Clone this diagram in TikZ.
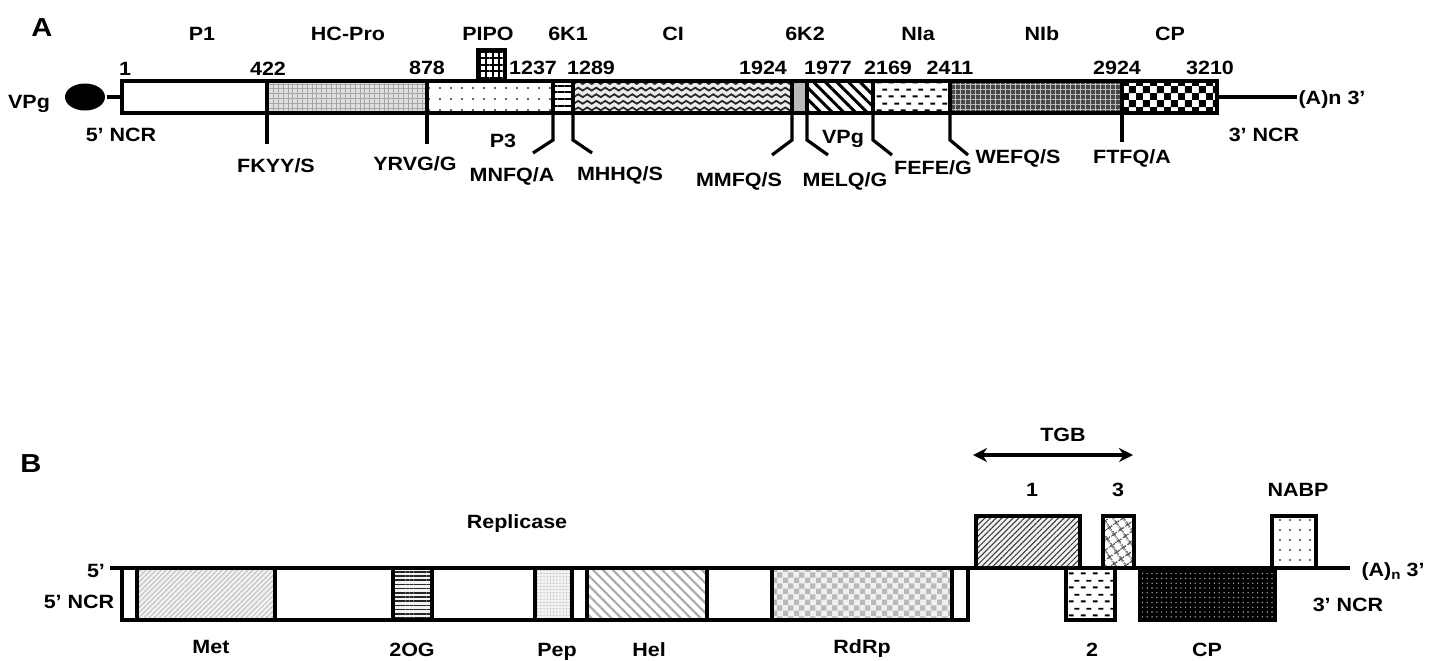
\documentclass[tikz,border=0pt]{standalone}
\usepackage{fontspec}
\setmainfont{Liberation Sans}[FakeStretch=1.12]
\usetikzlibrary{patterns,patterns.meta,arrows.meta,shapes.geometric}

\pgfdeclarepatternformonly{waves}{\pgfpoint{-0.1pt}{-0.1pt}}{\pgfpoint{4.6pt}{3.4pt}}{\pgfpoint{4.5pt}{3.3pt}}{
	\pgfsetlinewidth{0.9pt}
	\pgfpathmoveto{\pgfpoint{0pt}{1.65pt}}
	\pgfpathcurveto{\pgfpoint{0.75pt}{2.6pt}}{\pgfpoint{1.5pt}{2.6pt}}{\pgfpoint{2.25pt}{1.65pt}}
	\pgfpathcurveto{\pgfpoint{3pt}{0.7pt}}{\pgfpoint{3.75pt}{0.7pt}}{\pgfpoint{4.5pt}{1.65pt}}
	\pgfusepath{stroke}}
\pgfdeclarepatternformonly{dashes}{\pgfpointorigin}{\pgfpoint{6pt}{7pt}}{\pgfpoint{6pt}{7pt}}{
	\pgfpathrectangle{\pgfpoint{0.4pt}{1.4pt}}{\pgfpoint{2.6pt}{1pt}}
	\pgfpathrectangle{\pgfpoint{3.4pt}{4.9pt}}{\pgfpoint{2.6pt}{1pt}}
	\pgfusepath{fill}}
\pgfdeclarepatternformonly{bigchecks}{\pgfpointorigin}{\pgfpoint{7.2pt}{7.2pt}}{\pgfpoint{7.2pt}{7.2pt}}{
	\pgfpathrectangle{\pgfpointorigin}{\pgfpoint{3.6pt}{3.6pt}}
	\pgfpathrectangle{\pgfpoint{3.6pt}{3.6pt}}{\pgfpoint{3.6pt}{3.6pt}}
	\pgfusepath{fill}}
\pgfdeclarepatternformonly{smallchecks}{\pgfpointorigin}{\pgfpoint{5.6pt}{5.6pt}}{\pgfpoint{5.6pt}{5.6pt}}{
	\pgfpathrectangle{\pgfpointorigin}{\pgfpoint{2.8pt}{2.8pt}}
	\pgfpathrectangle{\pgfpoint{2.8pt}{2.8pt}}{\pgfpoint{2.8pt}{2.8pt}}
	\pgfusepath{fill}}

\tikzstyle{lbl}=[inner sep=0pt, text height=6.9pt, text depth=0pt, font=\fontsize{9.6}{11}\selectfont\bfseries]
\tikzstyle{big}=[inner sep=0pt, text height=9.3pt, text depth=0pt, font=\fontsize{13}{15}\selectfont\bfseries]
\tikzstyle{seg}=[draw=black, fill=white]
\tikzstyle{hcpro}=[draw=black, preaction={fill=gray!25}, pattern={Hatch[angle=0,distance=2.4pt,line width=0.4pt]}, pattern color=gray!70]
\tikzstyle{ptre}=[draw=black, pattern={Dots[distance=5.5pt,radius=0.55pt]}, pattern color=gray!40!black]
\tikzstyle{pipo}=[draw=black, pattern={Hatch[angle=0,distance=3.2pt,line width=1pt]}, pattern color=black]
\tikzstyle{sixka}=[draw=black, pattern={Lines[angle=0,distance=3.3pt,line width=1pt]}, pattern color=black]
\tikzstyle{ci}=[draw=black, preaction={fill=gray!15}, pattern=waves, pattern color=black!85]
\tikzstyle{sixkb}=[draw=black, fill=gray!55]
\tikzstyle{vpg}=[draw=black, pattern={Lines[angle=-45,distance=4.1pt,line width=1.5pt]}, pattern color=black]
\tikzstyle{nia}=[draw=black, pattern=dashes, pattern color=black]
\tikzstyle{nib}=[draw=black, preaction={fill=black!72}, pattern={Hatch[angle=0,distance=2.5pt,line width=0.5pt]}, pattern color=gray!50]
\tikzstyle{cpa}=[draw=black, pattern=bigchecks, pattern color=black]
\tikzstyle{met}=[draw=black, preaction={fill=gray!12}, pattern={Lines[angle=45,distance=1.8pt,line width=0.35pt]}, pattern color=gray!60]
\tikzstyle{twoog}=[draw=black, preaction={fill=gray!10}, pattern={Lines[angle=0,distance=2.1pt,line width=0.8pt]}, pattern color=gray!30!black]
\tikzstyle{pep}=[draw=black, preaction={fill=gray!10}, pattern={Dots[distance=1.6pt,radius=0.35pt]}, pattern color=gray!60]
\tikzstyle{hel}=[draw=black, pattern={Lines[angle=-45,distance=3.5pt,line width=1.1pt]}, pattern color=gray!65]
\tikzstyle{rdrp}=[draw=black, preaction={fill=gray!12}, pattern=smallchecks, pattern color=gray!55]
\tikzstyle{tgba}=[draw=black, preaction={fill=gray!10}, pattern={Lines[angle=45,distance=2pt,line width=0.5pt]}, pattern color=gray!40!black]
\tikzstyle{tgbc}=[draw=black, pattern={Hatch[angle=35,distance=4pt,line width=0.7pt]}, pattern color=gray!50!black]
\tikzstyle{cpb}=[draw=black, preaction={fill=black}, pattern={Dots[distance=2.4pt,radius=0.4pt]}, pattern color=gray!70]
\tikzstyle{nabp}=[draw=black, pattern={Dots[distance=5pt,radius=0.6pt]}, pattern color=gray!50!black]

\begin{document}
\begin{tikzpicture}[x=0.5pt, y=-0.5pt, line width=1.6pt, >={Stealth[length=7pt,width=7pt]}]
		\useasboundingbox (0,0) rectangle (1444,660);

		\node [style=big] (-1) at (42, 27) {A};

		\node [style=lbl] (10) at (202, 34) {P1};
		\node [style=lbl] (11) at (348, 34) {HC-Pro};
		\node [style=lbl] (12) at (488, 34) {PIPO};
		\node [style=lbl] (13) at (568, 34) {6K1};
		\node [style=lbl] (14) at (673, 34) {CI};
		\node [style=lbl] (15) at (805, 34) {6K2};
		\node [style=lbl] (16) at (918, 34) {NIa};
		\node [style=lbl] (17) at (1042, 34) {NIb};
		\node [style=lbl] (18) at (1170, 34) {CP};

		\node [style=lbl] (20) at (125, 69) {1};
		\node [style=lbl] (21) at (268, 69) {422};
		\node [style=lbl] (22) at (427, 68) {878};
		\node [style=lbl] (23) at (533, 68) {1237};
		\node [style=lbl] (24) at (591, 68) {1289};
		\node [style=lbl] (25) at (763, 68) {1924};
		\node [style=lbl] (26) at (828, 68) {1977};
		\node [style=lbl] (27) at (888, 68) {2169};
		\node [style=lbl] (28) at (950, 68) {2411};
		\node [style=lbl] (29) at (1117, 68) {2924};
		\node [style=lbl] (30) at (1210, 68) {3210};

		\draw [style=seg] (122,81) rectangle (267,113);
		\draw [style=hcpro] (267,81) rectangle (427,113);
		\draw [style=ptre] (427,81) rectangle (553,113);
		\draw [style=sixka] (553,81) rectangle (573,113);
		\draw [style=ci] (573,81) rectangle (792,113);
		\draw [style=sixkb] (792,81) rectangle (807,113);
		\draw [style=vpg] (807,81) rectangle (873,113);
		\draw [style=nia] (873,81) rectangle (950,113);
		\draw [style=nib] (950,81) rectangle (1122,113);
		\draw [style=cpa] (1122,81) rectangle (1217,113);
		\draw [style=pipo] (478,50) rectangle (505,81);

		\node [ellipse, fill=black, inner sep=0pt, minimum width=20pt, minimum height=13.5pt] (0) at (85, 97) {};
		\coordinate (a0) at (122, 97);
		\coordinate (a1) at (1217, 97);
		\coordinate (a2) at (1297, 97);
		\draw (0) -- (a0);
		\draw (a1) -- (a2);

		\node [style=lbl] (50) at (29, 102) {VPg};
		\node [style=lbl] (51) at (121, 135) {5' NCR};
		\node [style=lbl] (52) at (1332, 98) {(A)n 3'};
		\node [style=lbl] (53) at (1264, 135) {3' NCR};
		\node [style=lbl] (54) at (503, 141) {P3};
		\node [style=lbl] (55) at (843, 137) {VPg};

		\coordinate (c1) at (267, 113);
		\coordinate (c2) at (427, 113);
		\coordinate (c3) at (553, 113);
		\coordinate (c4) at (573, 113);
		\coordinate (c5) at (792, 113);
		\coordinate (c6) at (807, 113);
		\coordinate (c7) at (873, 113);
		\coordinate (c8) at (950, 113);
		\coordinate (c9) at (1122, 113);

		\draw (c1) -- ++(0, 31);
		\draw (c2) -- ++(0, 31);
		\draw (c3) -- ++(0, 27) -- ++(-20, 13);
		\draw (c4) -- ++(0, 27) -- ++(19, 13);
		\draw (c5) -- ++(0, 27) -- ++(-20, 15);
		\draw (c6) -- ++(0, 27) -- ++(21, 15);
		\draw (c7) -- ++(0, 27) -- ++(19, 15);
		\draw (c8) -- ++(0, 27) -- ++(18, 15);
		\draw (c9) -- ++(0, 29);

		\node [style=lbl] (40) at (276, 166) {FKYY/S};
		\node [style=lbl] (41) at (415, 164) {YRVG/G};
		\node [style=lbl] (42) at (512, 175) {MNFQ/A};
		\node [style=lbl] (43) at (620, 174) {MHHQ/S};
		\node [style=lbl] (44) at (739, 180) {MMFQ/S};
		\node [style=lbl] (45) at (845, 180) {MELQ/G};
		\node [style=lbl] (46) at (933, 168) {FEFE/G};
		\node [style=lbl] (47) at (1018, 157) {WEFQ/S};
		\node [style=lbl] (48) at (1132, 157) {FTFQ/A};

		\node [style=big] (-2) at (31, 463) {B};

		\coordinate (t0) at (973, 455);
		\coordinate (t1) at (1133, 455);
		\draw [<->] (t0) -- (t1);
		\node [style=lbl] (60) at (1063, 435) {TGB};

		\node [style=lbl] (61) at (1032, 490) {1};
		\node [style=lbl] (62) at (1118, 490) {3};
		\node [style=lbl] (63) at (1298, 490) {NABP};
		\node [style=lbl] (64) at (517, 522) {Replicase};

		\coordinate (b0) at (110, 568);
		\coordinate (b1) at (1350, 568);
		\draw (b0) -- (b1);

		\draw [style=seg] (122,568) rectangle (137,620);
		\draw [style=met] (137,568) rectangle (275,620);
		\draw [style=seg] (275,568) rectangle (393,620);
		\draw [style=twoog] (393,568) rectangle (432,620);
		\draw [style=seg] (432,568) rectangle (535,620);
		\draw [style=pep] (535,568) rectangle (572,620);
		\draw [style=seg] (572,568) rectangle (587,620);
		\draw [style=hel] (587,568) rectangle (707,620);
		\draw [style=seg] (707,568) rectangle (772,620);
		\draw [style=rdrp] (772,568) rectangle (952,620);
		\draw [style=seg] (952,568) rectangle (968,620);

		\draw [style=tgba] (976,516) rectangle (1080,568);
		\draw [style=tgbc] (1103,516) rectangle (1134,568);
		\draw [style=nabp] (1272,516) rectangle (1316,568);
		\draw [style=nia] (1066,568) rectangle (1115,620);
		\draw [style=cpb] (1140,568) rectangle (1275,620);

		\node [style=lbl] (65) at (96, 571) {5'};
		\node [style=lbl] (66) at (79, 602) {5' NCR};
		\node [style=lbl] (67) at (1393, 570) {(A)$_\mathbf{n}$ 3'};
		\node [style=lbl] (68) at (1348, 605) {3' NCR};

		\node [style=lbl] (70) at (211, 647) {Met};
		\node [style=lbl] (71) at (412, 650) {2OG};
		\node [style=lbl] (72) at (557, 650) {Pep};
		\node [style=lbl] (73) at (649, 650) {Hel};
		\node [style=lbl] (74) at (862, 647) {RdRp};
		\node [style=lbl] (75) at (1092, 650) {2};
		\node [style=lbl] (76) at (1207, 650) {CP};
	\end{tikzpicture}
\end{document}
